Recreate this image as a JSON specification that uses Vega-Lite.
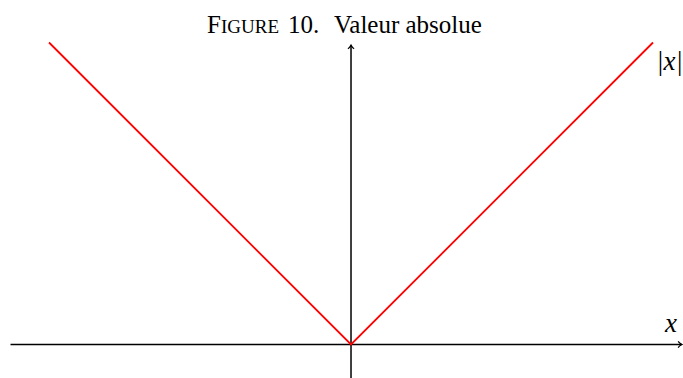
{
  "$schema": "https://vega.github.io/schema/vega-lite/v6.json",
  "width": 683,
  "height": 378,
  "padding": 0,
  "autosize": "none",
  "background": "white",
  "config": {"view": {"stroke": null}},
  "datasets": {
    "curve": [{"x": -1, "y": 1}, {"x": 0, "y": 0}, {"x": 1, "y": 1}],
    "axes": [
      {"x1": -1.1275, "x2": 1.094, "y1": 0, "y2": 0},
      {"x1": 0, "x2": 0, "y1": -0.12, "y2": 0.99}
    ],
    "arrows": [{"x": 1.096, "y": 0, "angle": 0}, {"x": 0, "y": 0.9917, "angle": 270}],
    "titleBig": [
      {"label": "F", "x": -0.4768, "y": 1.0315},
      {"label": "10.", "x": -0.2086, "y": 1.0315},
      {"label": "Valeur absolue", "x": -0.0563, "y": 1.0315}
    ],
    "titleSmall": [{"label": "IGURE", "x": -0.4305, "y": 1.0315}],
    "math": [
      {"label": "|x|", "x": 1.0105, "y": 0.909},
      {"label": "x", "x": 1.0397, "y": 0.0414}
    ]
  },
  "layer": [
    {
      "data": {"name": "axes"},
      "mark": {"type": "rule", "color": "black", "strokeWidth": 1.5, "clip": true},
      "encoding": {
        "x": {"field": "x1", "type": "quantitative", "scale": {"domain": [-1.1623, 1.0993], "nice": false, "zero": false}, "axis": null},
        "x2": {"field": "x2"},
        "y": {"field": "y1", "type": "quantitative", "scale": {"domain": [-0.1109, 1.1407], "nice": false, "zero": false}, "axis": null},
        "y2": {"field": "y2"}
      }
    },
    {
      "data": {"name": "arrows"},
      "mark": {"type": "point", "shape": "M-1,-0.8C-0.7,-0.35 -0.2,-0.1 0,0C-0.2,0.1 -0.7,0.35 -1,0.8", "filled": false, "stroke": "black", "strokeWidth": 1.2, "size": 60, "opacity": 1},
      "encoding": {
        "x": {"field": "x", "type": "quantitative", "axis": null},
        "y": {"field": "y", "type": "quantitative", "axis": null},
        "angle": {"field": "angle", "type": "quantitative", "scale": null}
      }
    },
    {
      "data": {"name": "curve"},
      "mark": {"type": "line", "color": "#ff0000", "strokeWidth": 1.8},
      "encoding": {
        "x": {"field": "x", "type": "quantitative", "axis": null},
        "y": {"field": "y", "type": "quantitative", "axis": null}
      }
    },
    {
      "data": {"name": "titleBig"},
      "mark": {"type": "text", "font": "Liberation Serif, Times New Roman, serif", "fontSize": 25, "align": "left", "baseline": "alphabetic", "color": "black"},
      "encoding": {
        "x": {"field": "x", "type": "quantitative", "axis": null},
        "y": {"field": "y", "type": "quantitative", "axis": null},
        "text": {"field": "label"}
      }
    },
    {
      "data": {"name": "titleSmall"},
      "mark": {"type": "text", "font": "Liberation Serif, Times New Roman, serif", "fontSize": 19, "align": "left", "baseline": "alphabetic", "color": "black"},
      "encoding": {
        "x": {"field": "x", "type": "quantitative", "axis": null},
        "y": {"field": "y", "type": "quantitative", "axis": null},
        "text": {"field": "label"}
      }
    },
    {
      "data": {"name": "math"},
      "mark": {"type": "text", "font": "Liberation Serif, Times New Roman, serif", "fontSize": 27, "fontStyle": "italic", "align": "left", "baseline": "alphabetic", "color": "black"},
      "encoding": {
        "x": {"field": "x", "type": "quantitative", "axis": null},
        "y": {"field": "y", "type": "quantitative", "axis": null},
        "text": {"field": "label"}
      }
    }
  ]
}
